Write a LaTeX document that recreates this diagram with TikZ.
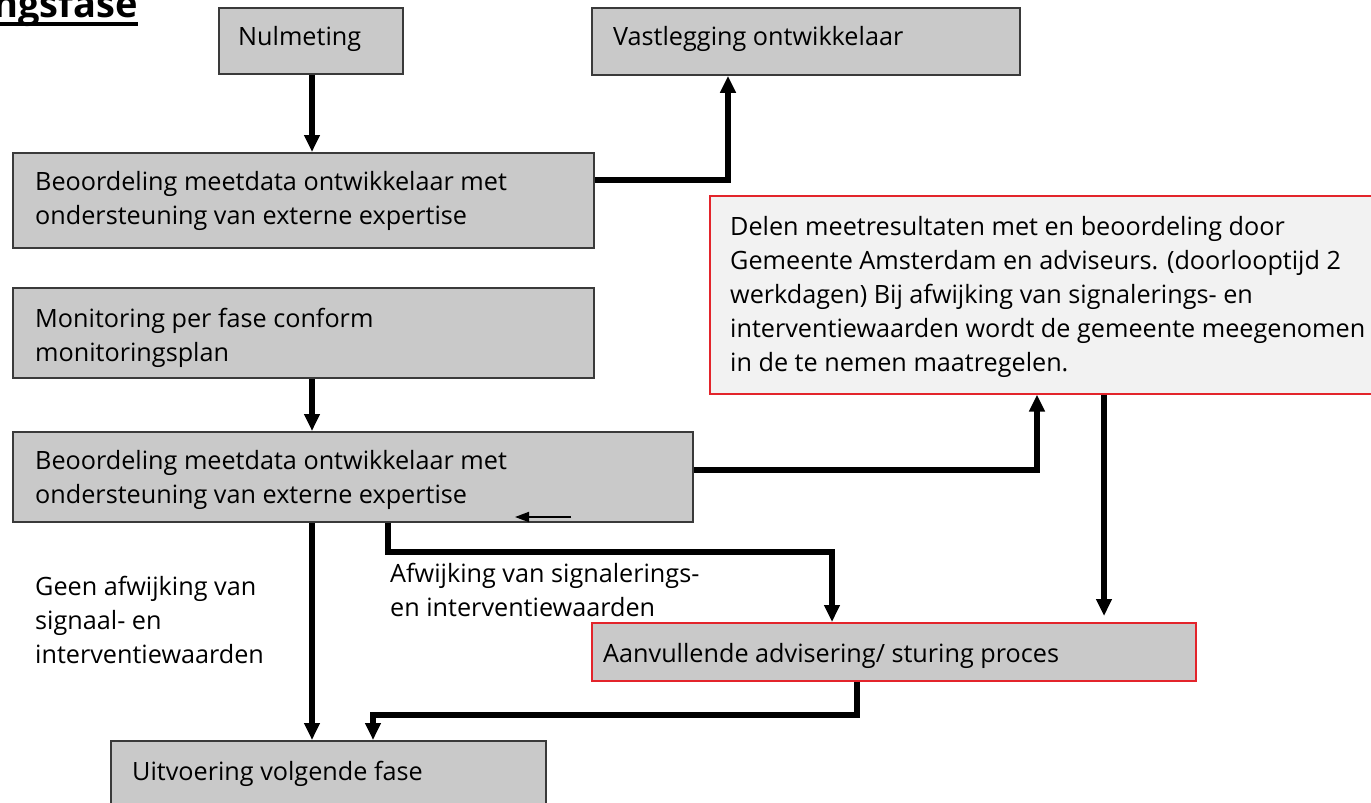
\documentclass[tikz,border=0pt]{standalone}
\usepackage{fontspec}
\setmainfont{Open Sans}
\usetikzlibrary{arrows.meta}
\definecolor{boxgray}{HTML}{C9C9C9}
\definecolor{edgegray}{HTML}{3A3A3A}
\definecolor{redline}{HTML}{E3242B}
\definecolor{lightfill}{HTML}{F2F2F2}
\tikzset{
 graybox/.style={draw=edgegray, fill=boxgray, line width=1.8pt, inner sep=0pt, anchor=north west},
 redbox/.style={draw=redline, line width=1.6pt, inner sep=0pt, anchor=north west},
 txt/.style={font=\fontsize{25.2}{34}\selectfont, inner sep=0pt, anchor=base west, align=left},
 arr/.style={line width=5.8pt, -{Triangle[width=15pt,length=17pt]}},
 thinarr/.style={line width=1.8pt, -{Triangle[width=10pt,length=14pt]}},
}
\begin{document}
\begin{tikzpicture}[x=1pt,y=-1pt]
\useasboundingbox (0,0) rectangle (1371,803);
% title
\node[font=\bfseries\fontsize{38}{38}\selectfont, anchor=base east, inner sep=0pt] (title) at (138,17) {Uitvoeringsfase};
\draw[line width=3.5pt] ([yshift=-7pt]title.base west) -- ([yshift=-7pt]title.base east);
% boxes
\node[graybox, minimum width=184pt, minimum height=66pt] (nul) at (218,7) {};
\node[txt] (nult) at (238,45) {Nulmeting};
\node[graybox, minimum width=428pt, minimum height=67pt] (vast) at (591,7) {};
\node[txt] (vastt) at (613,45) {Vastlegging ontwikkelaar};
\node[graybox, minimum width=581pt, minimum height=95pt] (beo1) at (12,152) {};
\node[txt] (beo1t) at (35,224) {Beoordeling meetdata ontwikkelaar met\\ondersteuning van externe expertise};
\node[graybox, minimum width=581pt, minimum height=90pt] (mon) at (12,287) {};
\node[txt] (mont) at (35,361) {Monitoring per fase conform\\monitoringsplan};
\node[graybox, minimum width=680pt, minimum height=90pt] (beo2) at (12,431) {};
\node[txt] (beo2t) at (35,503) {Beoordeling meetdata ontwikkelaar met\\ondersteuning van externe expertise};
\node[redbox, fill=lightfill, minimum width=690pt, minimum height=198pt] (adv) at (709,195) {};
\node[txt] (advt) at (730,371) {Delen meetresultaten met en beoordeling door\\Gemeente Amsterdam en adviseurs. (doorlooptijd 2\\werkdagen) Bij afwijking van signalerings- en\\interventiewaarden wordt de gemeente meegenomen\\in de te nemen maatregelen.};
\node[redbox, fill=boxgray, minimum width=604pt, minimum height=58pt] (aanv) at (591,622) {};
\node[txt] (aanvt) at (603,662) {Aanvullende advisering/ sturing proces};
\node[graybox, minimum width=435pt, minimum height=90pt] (uitv) at (110,740) {};
\node[txt] (uitvt) at (132,780) {Uitvoering volgende fase};
% labels
\node[txt] (geen) at (35,663) {Geen afwijking van\\signaal- en\\interventiewaarden};
\node[txt] (afw) at (390,616) {Afwijking van signalerings-\\en interventiewaarden};
% coordinates
\coordinate (c1) at (728,180);
\coordinate (c2) at (1037,470);
\coordinate (c3) at (1104,0);
\coordinate (c4) at (388,552);
\coordinate (c5) at (832,552);
\coordinate (c6) at (312,0);
\coordinate (c7) at (857,715);
\coordinate (c8) at (373,715);
\coordinate (sa1) at (571,517);
\coordinate (sa2) at (515,517);
% connectors
\draw[arr] (nul.south -| c6) -- (beo1.north -| c6);
\draw[arr] (beo1.east |- c1) -| (vast.south -| c1);
\draw[arr] (mon.south -| c6) -- (beo2.north -| c6);
\draw[arr] (beo2.east |- c2) -| (adv.south -| c2);
\draw[arr, shorten >=6pt] (adv.south -| c3) -- (aanv.north -| c3);
\draw[arr] (beo2.south -| c4) |- (c5) -- (aanv.north -| c5);
\draw[arr] (beo2.south -| c6) -- (uitv.north -| c6);
\draw[arr] (aanv.south -| c7) |- (c8) -- (uitv.north -| c8);
\draw[thinarr] (sa1) -- (sa2);
\end{tikzpicture}
\end{document}
